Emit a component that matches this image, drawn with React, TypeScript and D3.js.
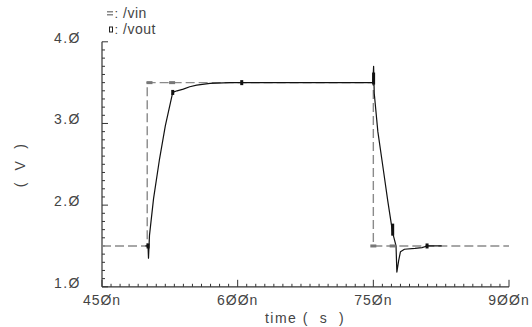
import { scaleLinear, line, range } from 'd3'

// time in ns, voltage in V
const vinTime = [450, 500, 500, 750, 750, 900]
const vinVolt = [1.5, 1.5, 3.5, 3.5, 1.5, 1.5]

const voutTime = [498, 500.9, 501.4, 502.5, 507, 513.4, 520, 528.2, 533, 539.9, 547, 554.7, 569.4, 591.5, 620, 700, 749.5, 750.3, 751, 755, 761.1, 766, 771.4, 775.1, 776, 778, 780, 784.4, 796, 803.8, 809.4, 825.6]
const voutVolt = [1.5, 1.5, 1.35, 1.63, 2.08, 2.55, 2.97, 3.38, 3.4, 3.42, 3.45, 3.47, 3.49, 3.5, 3.5, 3.5, 3.5, 3.7, 3.37, 2.9, 2.43, 2.05, 1.66, 1.5, 1.18, 1.32, 1.43, 1.46, 1.47, 1.48, 1.5, 1.5]

// where the viewer drew its little markers
const vinMarkTime = [502.5, 527.5, 750, 771.4]
const vinMarkVolt = [3.5, 3.5, 1.5, 1.5]
const voutMarkTime = [500.9, 528.2, 604.5, 750.3, 771.4, 809.4]
const voutMarkVolt = [1.5, 3.38, 3.5, 3.55, 1.7, 1.5]

const xTicks = [450, 600, 750, 900]
const xTickLabels = ['45Øn', '6ØØn', '75Øn', '9ØØn']
const yTicks = [1, 2, 3, 4]
const yTickLabels = ['1.Ø', '2.Ø', '3.Ø', '4.Ø']

const legendNames = ['/vin', '/vout']

const App = () => {
  const width = 532
  const height = 327

  const x = scaleLinear().domain([450, 900]).range([102, 509])
  const y = scaleLinear().domain([1, 4]).range([286.8, 41.8])

  const vinPath = line<number>()
    .x(d => x(vinTime[d]))
    .y(d => y(vinVolt[d]))(range(vinTime.length))
  const voutPath = line<number>()
    .x(d => x(voutTime[d]))
    .y(d => y(voutVolt[d]))(range(voutTime.length))

  const minorX = range(450, 901, 10)
  const minorY = range(10, 41).map(d => d / 10)

  const axisColor = '#333'
  const textColor = '#444'
  const font = 'Liberation Sans, Arial, sans-serif'

  return (
    <svg width={width} height={height} style={{ position: 'fixed', left: 0, top: 0, background: '#fff' }}>
      {/* axes */}
      <line x1={x(450)} x2={x(900)} y1={y(1)} y2={y(1)} stroke={axisColor} strokeWidth={1.2} />
      <line x1={x(450)} x2={x(450)} y1={y(1)} y2={y(4)} stroke={axisColor} strokeWidth={1.2} />
      {minorX.map(t => {
        const major = xTicks.includes(t)
        return <line key={'xt' + t} x1={x(t)} x2={x(t)} y1={y(1)} y2={y(1) - (major ? 7 : 3)} stroke={axisColor} strokeWidth={1} />
      })}
      {minorY.map(v => {
        const major = Math.abs(v - Math.round(v)) < 1e-6
        return <line key={'yt' + v} x1={x(450)} x2={x(450) + (major ? 6 : 3)} y1={y(v)} y2={y(v)} stroke={axisColor} strokeWidth={1} />
      })}
      {xTicks.map((t, i) => (
        <text key={'xl' + t} x={x(t)} y={305} textAnchor="middle" fontFamily={font} fontSize={14} letterSpacing={1} fill={textColor}>{xTickLabels[i]}</text>
      ))}
      {yTicks.map((v, i) => (
        <text key={'yl' + v} x={81} y={y(v) + 1} textAnchor="end" fontFamily={font} fontSize={14} letterSpacing={1.5} fill={textColor}>{yTickLabels[i]}</text>
      ))}
      <text x={305} y={323} textAnchor="middle" fontFamily={font} fontSize={14} letterSpacing={1.5} fill={textColor} xmlSpace="preserve">time (  s  )</text>
      <text transform="translate(25,165) rotate(-90)" textAnchor="middle" fontFamily={font} fontSize={14} letterSpacing={1.5} fill={textColor} xmlSpace="preserve">(  V  )</text>

      {/* legend */}
      <rect x={107} y={11} width={6} height={1.5} fill="#888" />
      <rect x={107} y={14} width={6} height={1.5} fill="#888" />
      <text x={114.5} y={18} fontFamily={font} fontSize={13} fill={textColor}>:</text>
      <rect x={109.5} y={27} width={3} height={5} fill="none" stroke="#222" strokeWidth={1} />
      <text x={114.5} y={34} fontFamily={font} fontSize={13} fill={textColor}>:</text>
      {legendNames.map((n, i) => (
        <text key={n} x={123} y={18 + i * 16} fontFamily={font} fontSize={14} letterSpacing={0.5} fill={textColor}>{n}</text>
      ))}

      {/* waves */}
      <path d={vinPath ?? ''} fill="none" stroke="#8a8a8a" strokeWidth={1.4} strokeDasharray="9,4" />
      <path d={voutPath ?? ''} fill="none" stroke="#111" strokeWidth={1.2} strokeLinejoin="round" />

      {vinMarkTime.map((t, i) => (
        <rect key={'vm' + i} x={x(t) - 3} y={y(vinMarkVolt[i]) - 1.5} width={6} height={3} fill="#777" />
      ))}
      {voutMarkTime.map((t, i) => (
        <rect key={'om' + i} x={x(t) - 1.5} y={y(voutMarkVolt[i]) - (i === 3 || i === 4 ? 6 : 2.5)} width={3} height={i === 3 || i === 4 ? 12 : 5} fill="#111" />
      ))}
    </svg>
  )
}

export default App
